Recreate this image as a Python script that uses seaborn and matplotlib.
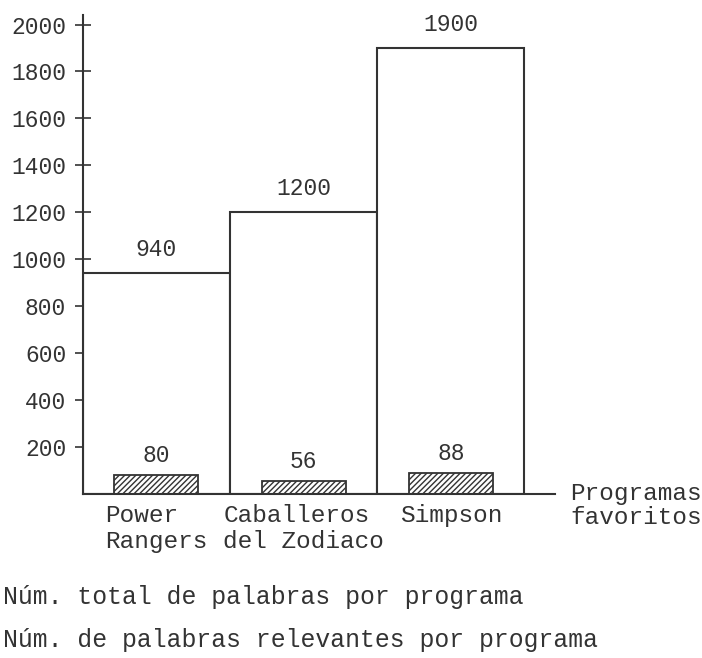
import matplotlib
matplotlib.use("Agg")
import matplotlib.pyplot as plt
import seaborn as sns

# valores
programas = ["Power\nRangers", "Caballeros\ndel Zodiaco", "Simpson"]
total_palabras = [940, 1200, 1900]
palabras_relevantes = [80, 56, 88]
yticks = [200, 400, 600, 800, 1000, 1200, 1400, 1600, 1800, 2000]

ink = "#333333"

sns.set_style("ticks")
plt.rcParams["font.family"] = ["Liberation Mono", "DejaVu Sans Mono"]
plt.rcParams["hatch.linewidth"] = 1.0
plt.rcParams["hatch.color"] = ink

fig = plt.figure(figsize=(7.02, 6.58), dpi=100)
ax = fig.add_axes([0.118, 0.249, 0.673, 0.728])

# barras del total de palabras (contiguas, sin relleno)
sns.barplot(x=programas, y=total_palabras, width=1.0, color="white",
            edgecolor=ink, linewidth=1.5, saturation=1, ax=ax)
n_total = len(ax.patches)

# barras de palabras relevantes (rayadas)
sns.barplot(x=programas, y=palabras_relevantes, width=0.57, color="white",
            edgecolor=ink, linewidth=1.3, saturation=1, ax=ax)
for p in ax.patches[n_total:]:
    p.set_hatch("//////")

ax.bar_label(ax.containers[0], labels=[str(v) for v in total_palabras],
             padding=9, fontsize=16.5, color=ink)
ax.bar_label(ax.containers[1], labels=[str(v) for v in palabras_relevantes],
             padding=6, fontsize=16.5, color=ink)

ax.set_xlim(-0.5, 2.71)
ax.set_ylim(0, 2040)
ax.set_yticks(yticks)
ax.set_yticklabels([str(v) for v in yticks], fontsize=16.5, color=ink)
ax.tick_params(axis="y", direction="inout", length=12, width=1.2, color=ink, pad=6)
ax.tick_params(axis="x", length=0, pad=7, labelsize=17.6, labelcolor=ink)
for lab in ax.get_xticklabels():
    lab.set_multialignment("left")
ax.set_xlabel("")
ax.set_ylabel("")

sns.despine(ax=ax)
for s in ["left", "bottom"]:
    ax.spines[s].set_color(ink)
    ax.spines[s].set_linewidth(1.5)

fig.text(0.812, 0.268, "Programas\nfavoritos", fontsize=17.6, color=ink,
         va="top", ha="left", linespacing=1.1)

fig.text(0.004, 0.093, "Núm. total de palabras por programa",
         fontsize=17.8, color=ink, va="center", ha="left")
fig.text(0.004, 0.027, "Núm. de palabras relevantes por programa",
         fontsize=17.8, color=ink, va="center", ha="left")

fig.savefig("out.png", dpi=100, facecolor="white")
